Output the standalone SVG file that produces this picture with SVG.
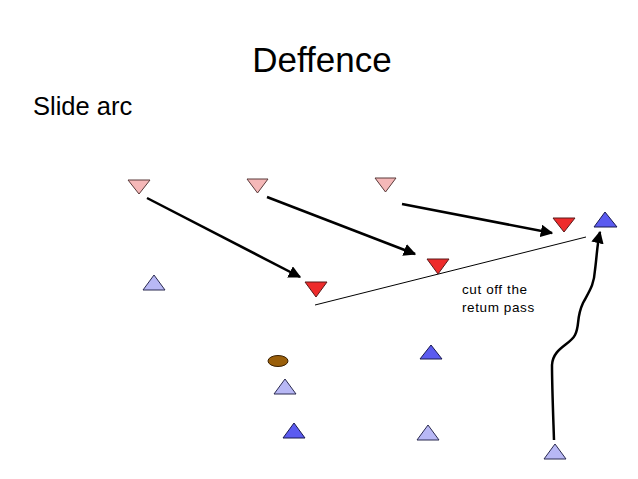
<svg xmlns="http://www.w3.org/2000/svg" width="638" height="479" viewBox="0 0 638 479">
<style>
.t{font-family:"Liberation Sans",Arial,sans-serif;fill:#000}
.pk{fill:#f5b8b8;stroke:#5a3a3a;stroke-width:1}
.rd{fill:#ee2b2b;stroke:#5a1a1a;stroke-width:1}
.db{fill:#5b5bf0;stroke:#1a1a50;stroke-width:1}
.lb{fill:#b8b8f5;stroke:#2a2a50;stroke-width:1}
.arr{fill:none;stroke:#000;stroke-width:2.5}
</style>
<defs>
<marker id="ah" viewBox="0 0 10 10" refX="9" refY="5" markerWidth="5" markerHeight="5" orient="auto" markerUnits="strokeWidth">
<path d="M0,0 L10,5 L0,10 z" fill="#000"/>
</marker>
</defs>
<rect width="638" height="479" fill="#fff"/>
<text class="t" x="322" y="72" font-size="35" text-anchor="middle">Deffence</text>
<text class="t" x="33" y="115" font-size="25.5">Slide arc</text>

<g id="connectors">
<line class="arr" x1="147" y1="198" x2="300" y2="277" marker-end="url(#ah)"/>
<line class="arr" x1="267" y1="197" x2="415" y2="254" marker-end="url(#ah)"/>
<line class="arr" x1="402" y1="204" x2="552" y2="233" marker-end="url(#ah)"/>
<line x1="315" y1="305" x2="586" y2="237" stroke="#000" stroke-width="1"/>
<path class="arr" d="M554,440 C553,410 552,385 552,365 C553,348 570,345 575,335 C580,325 576,318 583,303 C590,290 594,285 595,270 C597,255 597,245 600,232" marker-end="url(#ah)"/>
</g>

<g id="p1"><polygon class="pk" points="128,180 150,180 139,194"/></g>
<g id="p2"><polygon class="pk" points="247,179 268,179 257.5,193"/></g>
<g id="p3"><polygon class="pk" points="375,178 396,178 385.5,192"/></g>

<g id="r1"><polygon class="rd" points="305,282 327,282 316,297"/></g>
<g id="r2"><polygon class="rd" points="427,259 449,259 438,274"/></g>
<g id="r3"><polygon class="rd" points="553,218 575,218 564,232"/></g>

<g id="b1"><polygon class="db" points="605,212 617,227 594,227"/></g>
<g id="b2"><polygon class="db" points="431,345 442,359 420,359"/></g>
<g id="b3"><polygon class="db" points="294,423 305,438 283,438"/></g>

<g id="l1"><polygon class="lb" points="154,275 165,290 143,290"/></g>
<g id="l2"><polygon class="lb" points="285,379 296,394 274,394"/></g>
<g id="l3"><polygon class="lb" points="428,425 439,440 417,440"/></g>
<g id="l4"><polygon class="lb" points="555,444 566,459 544,459"/></g>

<g id="ball"><ellipse cx="278" cy="361" rx="10" ry="5.5" fill="#9a5f0a" stroke="#3a2000" stroke-width="1"/></g>

<g id="note">
<text class="t" x="462" y="294" font-size="13.5" letter-spacing="0.6">cut off the</text>
<text class="t" x="462" y="312" font-size="13.5" letter-spacing="0.6">retum pass</text>
</g>
</svg>
